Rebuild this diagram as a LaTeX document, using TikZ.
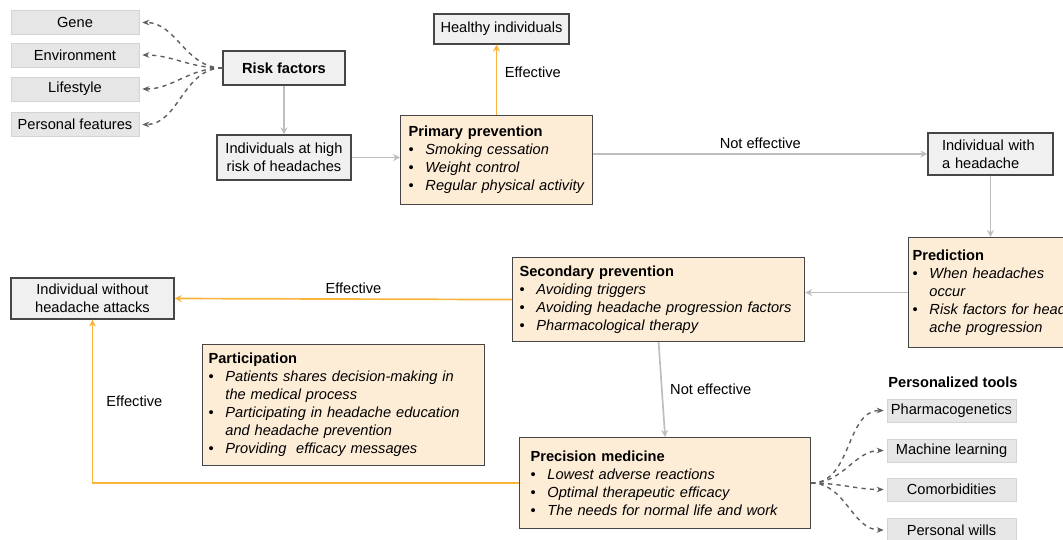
\documentclass[tikz,border=0pt]{standalone}
\usepackage{fontspec}
\setmainfont{Liberation Sans}
\usetikzlibrary{arrows.meta, calc}

\definecolor{notefill}{RGB}{253,236,214}
\definecolor{notedraw}{RGB}{70,70,70}
\definecolor{plainfill}{RGB}{240,240,240}
\definecolor{factfill}{RGB}{230,230,230}
\definecolor{factdraw}{RGB}{212,212,212}
\definecolor{goodline}{RGB}{250,180,60}
\definecolor{flowline}{RGB}{190,190,190}
\definecolor{dashline}{RGB}{95,95,95}

% bullet items inside the boxes
\newcommand{\itm}[1]{\makebox[12pt][l]{\textbullet}\mbox{\textit{#1}}}
\newcommand{\cnt}[1]{\hspace*{12pt}\mbox{\textit{#1}}}

\tikzset{
  fact/.style={fill=factfill, draw=factdraw, line width=.6pt, minimum width=3.2cm,
    minimum height=.6cm, inner sep=0pt},
  plain/.style={fill=plainfill, draw=notedraw, line width=.8pt, align=center, inner sep=0pt},
  note/.style={fill=notefill, draw=notedraw, line width=.8pt, align=left,
    anchor=north west, inner ysep=0pt},
  flow/.style={draw=flowline, line width=1.2pt, -{Stealth[length=5pt,width=5pt]}},
  good/.style={draw=goodline, line width=1.2pt, -{Stealth[length=5pt,width=5pt]}},
  dasharrow/.style={draw=dashline, line width=1pt, dashed, shorten >=2pt,
    -{Stealth[length=5pt,width=4pt]}},
}

\begin{document}
\begin{tikzpicture}[x=0.025cm, y=-0.025cm, font=\fontsize{10.4}{12.8}\selectfont]
\useasboundingbox (0,0) rectangle (1063,539);
% Risk factors and what they stand for
\node [fact] (gene) at (75,22.5) {Gene};
\node [fact] (environ) at (75,55) {Environment};
\node [fact] (lifestyle) at (75,89) {Lifestyle};
\node [fact] (personal) at (75,124.5) {Personal features};
\node [plain, minimum width=3.05cm, minimum height=.85cm] (risk) at (284,68) {\textbf{Risk factors}};
\foreach \f in {gene, environ, lifestyle, personal}
  \draw [dasharrow] (risk.west) to [out=180, in=0] (\f.east);
% High risk individuals and primary prevention
\node [plain, minimum width=3.35cm, minimum height=1.125cm] (highrisk) at (284,157.5)
  {Individuals at high\\risk of headaches};
\draw [flow] (risk) -- (highrisk);
\node [note, inner xsep=.2cm, text width=4.4cm, minimum height=2.225cm] (primary) at (400,115)
  {\textbf{Primary prevention}\\\itm{Smoking cessation}\\\itm{Weight control}\\\itm{Regular physical activity}};
\draw [flow] (highrisk.east) -- (highrisk.east -| primary.west);
\node [plain, minimum width=3.375cm, minimum height=.75cm] (healthy) at (501.5,29) {Healthy individuals};
\draw [good] (primary.north) -- node [right, pos=.6, xshift=2pt] {Effective} (primary.north |- healthy.south);
% Not effective: the individual gets a headache
\node [plain, align=left, inner xsep=.35cm, text width=2.425cm, minimum height=1.05cm] (headache)
  at (990.5,154) {Individual with\\a headache};
\draw [flow] (primary.east |- headache.west) -- node [above] {Not effective} (headache.west);
\node [note, inner xsep=.1cm, text width=4.6cm, minimum height=2.75cm] (predict) at (908,237)
  {\textbf{Prediction}\\\itm{When headaches}\\\cnt{occur}\\\itm{Risk factors for head}\\\cnt{ache progression}};
\draw [flow] (headache.south) -- (headache.south |- predict.north);
% Secondary prevention
\node [note, inner xsep=.175cm, text width=6.95cm, minimum height=2.1cm] (second) at (512,257)
  {\textbf{Secondary prevention}\\\itm{Avoiding triggers}\\\itm{Avoiding headache progression factors}\\\itm{Pharmacological therapy}};
\draw [flow] (predict.west) -- (predict.west -| second.east);
\node [plain, minimum width=4.075cm, minimum height=1.025cm] (nofree) at (92.5,298.5)
  {Individual without\\headache attacks};
\draw [good] (second.west) -- node [above, pos=.47] {Effective} (nofree.east);
% Participation of the patients
\node [note, inner xsep=.15cm, text width=6.75cm, minimum height=3.025cm] (particip) at (202,344)
  {\textbf{Participation}\\\itm{Patients shares decision-making in}\\\cnt{the medical process}\\\itm{Participating in headache education}\\\cnt{and headache prevention}\\\itm{Providing\ \ efficacy messages}};
% Precision medicine
\node [note, inner xsep=.275cm, text width=6.725cm, minimum height=2.275cm] (precise) at (519,437)
  {\textbf{Precision medicine}\\\itm{Lowest adverse reactions}\\\itm{Optimal therapeutic efficacy}\\\itm{The needs for normal life and work}};
\draw [flow] (second.south) -- node [right, xshift=2pt] {Not effective} (precise.north);
\draw [good] (precise.west) -| node [right, pos=.75, xshift=6pt] {Effective} (nofree.south);
% Personalized tools
\node (tools) at (953,382) {\textbf{Personalized tools}};
\node [fact, minimum width=3.225cm, minimum height=.575cm] (pharma) at (951.5,410.5) {Pharmacogenetics};
\node [fact, minimum width=3.225cm, minimum height=.575cm] (machine) at (951.5,450.5) {Machine learning};
\node [fact, minimum width=3.225cm, minimum height=.575cm] (comorb) at (951.5,489.5) {Comorbidities};
\node [fact, minimum width=3.225cm, minimum height=.575cm] (wills) at (951.5,530) {Personal wills};
\foreach \t in {pharma, machine, comorb, wills}
  \draw [dasharrow] (precise.east) to [out=0, in=180] (\t.west);
\end{tikzpicture}
\end{document}
